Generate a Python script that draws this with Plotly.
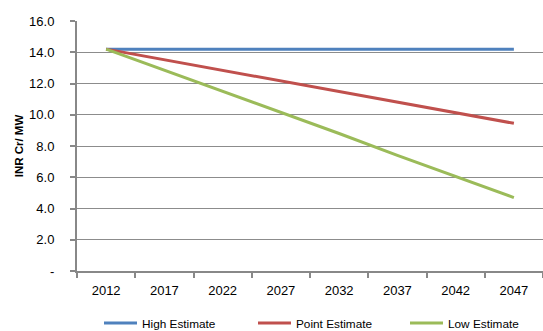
import plotly.graph_objects as go

# Capital cost projection, INR crore per MW
years = ["2012", "2017", "2022", "2027", "2032", "2037", "2042", "2047"]
high_estimate = [14.2, 14.2, 14.2, 14.2, 14.2, 14.2, 14.2, 14.2]
point_estimate = [14.2, 13.52, 12.84, 12.16, 11.48, 10.8, 10.12, 9.45]
low_estimate = [14.2, 12.85, 11.5, 10.1, 8.8, 7.4, 6.05, 4.7]

y_ticks = [0, 2, 4, 6, 8, 10, 12, 14, 16]
y_tick_text = ["-", "2.0", "4.0", "6.0", "8.0", "10.0", "12.0", "14.0", "16.0"]

series = [
    ("High Estimate", high_estimate, "#4F81BD", "legend", 99),
    ("Point Estimate", point_estimate, "#C0504D", "legend2", 253),
    ("Low Estimate", low_estimate, "#9BBB59", "legend3", 405),
]

fig = go.Figure()
for name, values, color, legend_id, _ in series:
    fig.add_trace(go.Scatter(
        x=years, y=values, name=name, mode="lines",
        line=dict(color=color, width=3), legend=legend_id,
    ))

font_family = "Liberation Sans, Arial, sans-serif"
W, H = 543, 331

# one small legend box per series, laid out along the bottom edge
legend_boxes = {}
for name, values, color, legend_id, left_px in series:
    legend_boxes[legend_id] = dict(
        orientation="h", xref="container", x=left_px / W, xanchor="left",
        yref="container", y=0.024, yanchor="middle", itemwidth=33,
        font=dict(size=11.8), bgcolor="rgba(0,0,0,0)",
    )

fig.update_layout(
    width=W, height=H,
    margin=dict(l=77, r=0, t=21, b=60),
    paper_bgcolor="white", plot_bgcolor="white",
    font=dict(family=font_family, size=13, color="black"),
    showlegend=True,
    **legend_boxes,
    xaxis=dict(
        type="category", range=[-0.5, 7.5],
        showgrid=False, showline=True, linecolor="#888888", linewidth=2,
        ticks="outside", tickson="boundaries", ticklen=5, tickcolor="#888888",
        tickwidth=2, ticklabelstandoff=6,
        tickfont=dict(size=13),
    ),
    yaxis=dict(
        range=[0, 16], tickvals=y_ticks, ticktext=y_tick_text,
        showgrid=True, gridcolor="#8c8c8c", gridwidth=1,
        showline=True, linecolor="#888888", linewidth=2,
        ticks="outside", ticklen=5, tickcolor="#888888", tickwidth=2,
        ticklabelstandoff=13, zeroline=False,
        tickfont=dict(size=13),
        title=dict(text="<b>INR Cr/ MW</b>", font=dict(size=11.5), standoff=3),
    ),
)

fig.write_html("out.html")
